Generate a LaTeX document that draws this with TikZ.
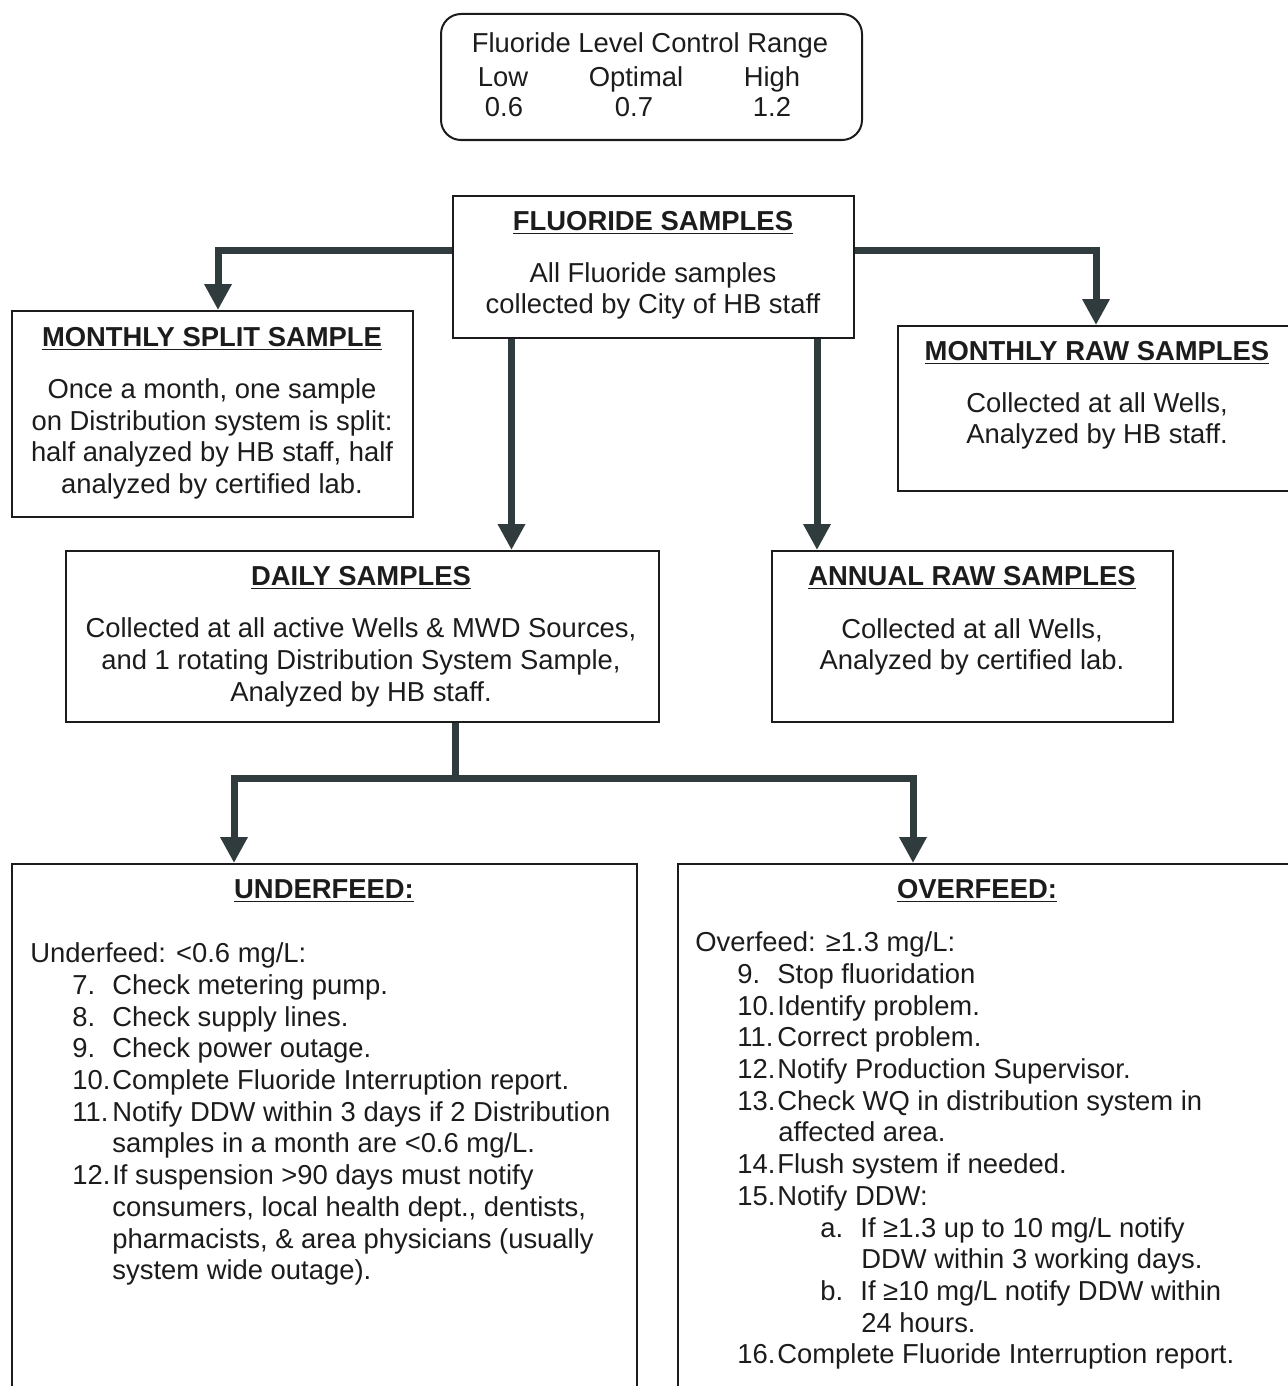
\documentclass[tikz,border=0pt]{standalone}
\usepackage{fontspec}
\setmainfont{Liberation Sans}
\usetikzlibrary{arrows.meta}

\definecolor{arrowgray}{HTML}{2F3B3C}
\definecolor{inkgray}{HTML}{1C1C1C}

\newcommand{\itemno}[1]{\makebox[20pt][l]{#1}}
\newcommand{\boxhead}[1]{\textbf{\underline{#1}}}

\begin{document}
\begin{tikzpicture}[x=0.5pt, y=-0.5pt,
    every node/.style={inner sep=0pt, text=inkgray, font=\fontsize{13.7}{15.85}\selectfont},
    sample box/.style 2 args={draw=inkgray, line width=1pt, minimum width=#1, minimum height=#2},
    box title/.style={anchor=base},
    box text/.style={align=center},
    list text/.style={align=left, anchor=north west},
    flow/.style={draw=arrowgray, line width=3.5pt, -{Triangle[width=13pt, length=13pt]}},
    flow stem/.style={draw=arrowgray, line width=3.5pt},
  ]
\useasboundingbox (0,0) rectangle (1287,1386);

% control range
\node[sample box={210.5pt}{63pt}, rounded corners=10pt] (range) at (651.5,77) {};
\node (range-t) at (650,45) {Fluoride Level Control Range};
\node[box title] (low) at (503,87) {Low};
\node[box title] (optimal) at (636,87) {Optimal};
\node[box title] (high) at (772,87) {High};
\node[box title] (low-v) at (504,117) {0.6};
\node[box title] (optimal-v) at (634,117) {0.7};
\node[box title] (high-v) at (772,117) {1.2};

% sample boxes
\node[sample box={200.5pt}{71pt}] (fluor) at (653.5,267) {};
\node[box title] (fluor-t) at (653,230) {\boxhead{FLUORIDE SAMPLES}};
\node[box text] (fluor-b) at (653,291) {All Fluoride samples\\collected by City of HB staff};

\node[sample box={200.5pt}{103pt}] (split) at (212.5,414) {};
\node[box title] (split-t) at (212,346) {\boxhead{MONTHLY SPLIT SAMPLE}};
\node[box text] (split-b) at (212,439) {Once a month, one sample\\on Distribution system is split:\\half analyzed by HB staff, half\\analyzed by certified lab.};

\node[sample box={198pt}{82.5pt}] (raw) at (1096,408.5) {};
\node[box title] (raw-t) at (1097,360) {\boxhead{MONTHLY RAW SAMPLES}};
\node[box text] (raw-b) at (1097,421) {Collected at all Wells,\\Analyzed by HB staff.};

\node[sample box={296.5pt}{85.5pt}] (daily) at (362.5,636.5) {};
\node[box title] (daily-t) at (361,585) {\boxhead{DAILY SAMPLES}};
\node[box text] (daily-b) at (361,662.5) {Collected at all active Wells \& MWD Sources,\\and 1 rotating Distribution System Sample,\\Analyzed by HB staff.};

\node[sample box={200.5pt}{85.5pt}] (annual) at (972.5,636.5) {};
\node[box title] (annual-t) at (972,585) {\boxhead{ANNUAL RAW SAMPLES}};
\node[box text] (annual-b) at (972,647) {Collected at all Wells,\\Analyzed by certified lab.};

% feed boxes
\node[sample box={312.5pt}{268pt}] (under) at (324.5,1132) {};
\node[box title] (under-t) at (324,898) {\boxhead{UNDERFEED:}};
\node[list text] (under-b) at (30,942.5) {Underfeed: <0.6 mg/L:\\
  \hspace*{21pt}\itemno{7.}Check metering pump.\\
  \hspace*{21pt}\itemno{8.}Check supply lines.\\
  \hspace*{21pt}\itemno{9.}Check power outage.\\
  \hspace*{21pt}\itemno{10.}Complete Fluoride Interruption report.\\
  \hspace*{21pt}\itemno{11.}Notify DDW within 3 days if 2 Distribution\\
  \hspace*{41pt}samples in a month are <0.6 mg/L.\\
  \hspace*{21pt}\itemno{12.}If suspension >90 days must notify\\
  \hspace*{41pt}consumers, local health dept., dentists,\\
  \hspace*{41pt}pharmacists, \& area physicians (usually\\
  \hspace*{41pt}system wide outage).};

\node[sample box={311pt}{268pt}] (over) at (989,1132) {};
\node[box title] (over-t) at (977,898) {\boxhead{OVERFEED:}};
\node[list text] (over-b) at (695,931.5) {Overfeed: ≥1.3 mg/L:\\
  \hspace*{21pt}\itemno{9.}Stop fluoridation\\
  \hspace*{21pt}\itemno{10.}Identify problem.\\
  \hspace*{21pt}\itemno{11.}Correct problem.\\
  \hspace*{21pt}\itemno{12.}Notify Production Supervisor.\\
  \hspace*{21pt}\itemno{13.}Check WQ in distribution system in\\
  \hspace*{41.5pt}affected area.\\
  \hspace*{21pt}\itemno{14.}Flush system if needed.\\
  \hspace*{21pt}\itemno{15.}Notify DDW:\\
  \hspace*{62.5pt}\itemno{a.}If ≥1.3 up to 10 mg/L notify\\
  \hspace*{83pt}DDW within 3 working days.\\
  \hspace*{62.5pt}\itemno{b.}If ≥10 mg/L notify DDW within\\
  \hspace*{83pt}24 hours.\\
  \hspace*{21pt}\itemno{16.}Complete Fluoride Interruption report.};

% connectors
\draw[flow] ([yshift=8.5pt]fluor.west) -| ([xshift=2.75pt]split.north);
\draw[flow] ([yshift=8.5pt]fluor.east) -| (raw.north);
\draw[flow] ([xshift=-71pt]fluor.south) -- ([xshift=-71pt]fluor.south |- daily.north);
\draw[flow] ([xshift=81.75pt]fluor.south) -- ([xshift=81.75pt]fluor.south |- annual.north);

\coordinate (fork) at (455,778);
\draw[flow stem] (daily.south -| fork) -- (fork);
\draw[flow] (fork) -| ([xshift=-45.25pt]under.north);
\draw[flow] (fork) -| ([xshift=-38pt]over.north);

\end{tikzpicture}
\end{document}
